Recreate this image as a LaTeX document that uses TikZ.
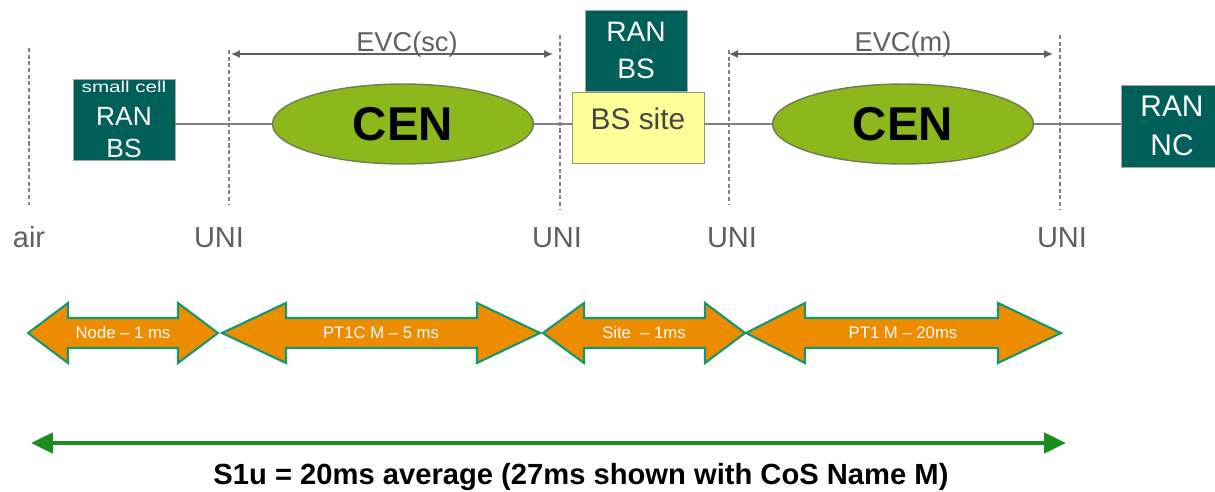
\documentclass[tikz,border=0pt]{standalone}
\usepackage{fontspec}
\setmainfont{Liberation Sans}
\usepackage{graphicx}
\usetikzlibrary{arrows.meta,shapes.geometric}

\definecolor{ranteal}{RGB}{0,95,88}
\definecolor{cengreen}{RGB}{141,184,28}
\definecolor{cenedge}{RGB}{110,125,80}
\definecolor{siteyellow}{RGB}{255,255,153}
\definecolor{siteedge}{RGB}{150,150,110}
\definecolor{sitetext}{RGB}{70,70,70}
\definecolor{linkgray}{RGB}{128,128,128}
\definecolor{lblgray}{RGB}{95,95,95}
\definecolor{durorange}{RGB}{238,140,0}
\definecolor{duredge}{RGB}{20,150,110}
\definecolor{s1ugreen}{RGB}{28,140,30}

\begin{document}
\begin{tikzpicture}[x=0.02cm, y=-0.02cm,
  uniline/.style={draw=linkgray, line width=0.9pt, dash pattern=on 2.3pt off 1.5pt},
  link/.style={draw=linkgray, line width=1.1pt},
  ranbox/.style={draw=gray!70, fill=ranteal, text=white, align=center, inner sep=0pt},
  cenell/.style={ellipse, draw=cenedge, line width=0.8pt, fill=cengreen, inner sep=0pt,
    minimum width=5.22cm, minimum height=1.6cm, font=\fontsize{27}{27}\selectfont\bfseries},
  unilbl/.style={text=lblgray, font=\fontsize{16.5}{16.5}\selectfont, anchor=base},
  evcarrow/.style={draw=lblgray, line width=0.8pt, >={Latex[length=5pt,width=4.5pt]}, <->},
  evclbl/.style={text=lblgray, font=\fontsize{15.5}{15.5}\selectfont, anchor=base},
  durarrow/.style={draw=duredge, line width=1.2pt, fill=durorange, line join=miter},
  durlbl/.style={text=white, font=\fontsize{9.5}{9.5}\selectfont},
  s1uarrow/.style={draw=s1ugreen, line width=2.3pt, >={Triangle[length=12.5pt,width=11.5pt]}, <->}
]

\useasboundingbox (0,0) rectangle (1215,491);

% ===== Demarcation lines =====

\coordinate (airtop) at (29,48);    \coordinate (airbot) at (29,205);
\coordinate (uni1top) at (229,50);  \coordinate (uni1bot) at (229,205);
\coordinate (uni2top) at (560,35);  \coordinate (uni2bot) at (560,209);
\coordinate (uni3top) at (729,50);  \coordinate (uni3bot) at (729,205);
\coordinate (uni4top) at (1060,35); \coordinate (uni4bot) at (1060,210);

\draw[uniline] (airtop) -- (airbot);
\draw[uniline] (uni1top) -- (uni1bot);
\draw[uniline] (uni2top) -- (uni2bot);
\draw[uniline] (uni3top) -- (uni3bot);
\draw[uniline] (uni4top) -- (uni4bot);

\node[unilbl] (airlbl) at (29,247) {air};
\node[unilbl] (uni1) at (219,247) {UNI};
\node[unilbl] (uni2) at (557,247) {UNI};
\node[unilbl] (uni3) at (732,247) {UNI};
\node[unilbl] (uni4) at (1062,247) {UNI};

% ===== Network elements =====

\node[ranbox, minimum width=2.04cm, minimum height=1.62cm, font=\fontsize{15}{18.4}\selectfont]
  (scbs) at (124,119.5) {\scalebox{1.3}[1]{\fontsize{9}{9}\selectfont small cell}\\RAN\\BS};
\node[cenell] (cen1) at (403,124) {CEN};
\node[ranbox, minimum width=2.04cm, minimum height=1.62cm, font=\fontsize{16}{21}\selectfont]
  (bsran) at (636,50.5) {RAN\\BS};
\node[draw=siteedge, fill=siteyellow, text=sitetext, inner sep=0pt, minimum width=2.64cm,
  minimum height=1.42cm, text height=12.2pt, text depth=10.5pt, font=\fontsize{17}{17}\selectfont]
  (site) at (638,127.5) {BS site};
\node[cenell] (cen2) at (903,124) {CEN};
\node[ranbox, minimum width=2.04cm, minimum height=1.64cm, font=\fontsize{17}{22}\selectfont]
  (rannc) at (1172,126) {RAN\\NC};

\draw[link] (scbs.east |- cen1.west) -- (cen1.west);
\draw[link] (cen1.east) -- (cen1.east -| site.west);
\draw[link] (site.east |- cen2.west) -- (cen2.west);
\draw[link] (cen2.east) -- (cen2.east -| rannc.west);

% ===== EVCs =====

\coordinate (evcsca) at (231,54); \coordinate (evcscb) at (553,54);
\coordinate (evcma) at (729,54);  \coordinate (evcmb) at (1053,54);

\draw[evcarrow] (evcsca) -- (evcscb);
\draw[evcarrow] (evcma) -- (evcmb);

\node[evclbl] (evcsc) at (407,51) {EVC(sc)};
\node[evclbl] (evcm) at (903,51) {EVC(m)};

% ===== Delay budget =====

\draw[durarrow] (28,333) -- (68,303) -- (68,318) -- (178,318) -- (178,303) -- (218,333)
  -- (178,363) -- (178,348) -- (68,348) -- (68,363) -- cycle;
\draw[durarrow] (222,333) -- (286,303) -- (286,318) -- (477,318) -- (477,303) -- (540,333)
  -- (477,363) -- (477,348) -- (286,348) -- (286,363) -- cycle;
\draw[durarrow] (543,333) -- (584,303) -- (584,318) -- (705,318) -- (705,303) -- (745,333)
  -- (705,363) -- (705,348) -- (584,348) -- (584,363) -- cycle;
\draw[durarrow] (746,333) -- (805,303) -- (805,318) -- (998,318) -- (998,303) -- (1061,333)
  -- (998,363) -- (998,348) -- (805,348) -- (805,363) -- cycle;

\node[durlbl] (dnode) at (123,333) {Node -- 1 ms};
\node[durlbl] (dpt1c) at (381,333) {PT1C M -- 5 ms};
\node[durlbl] (dsite) at (644,333) {Site \ -- 1ms};
\node[durlbl] (dpt1) at (903,333) {PT1 M -- 20ms};

% ===== S1u total =====

\coordinate (s1ua) at (31,443); \coordinate (s1ub) at (1066,443);
\draw[s1uarrow] (s1ua) -- (s1ub);
\node[font=\fontsize{16.6}{16.6}\selectfont\bfseries, anchor=base] (s1u) at (581,484)
  {S1u = 20ms average (27ms shown with CoS Name M)};

\end{tikzpicture}
\end{document}
